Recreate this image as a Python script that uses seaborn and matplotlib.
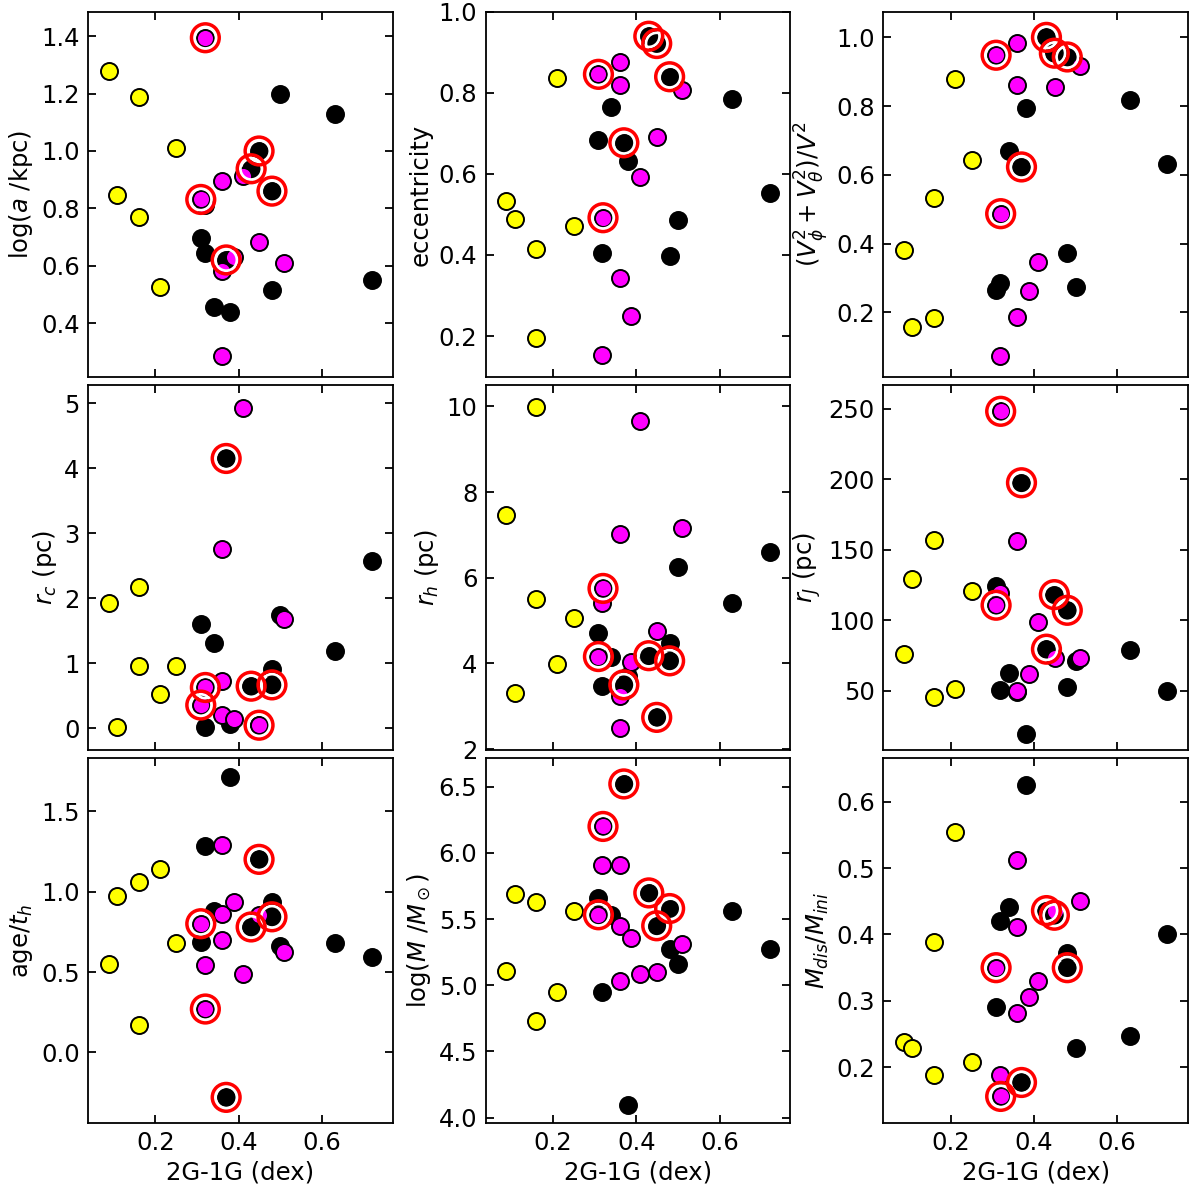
import matplotlib
matplotlib.use("Agg")
import matplotlib.pyplot as plt
import seaborn as sns
import numpy as np

# ---- data ----
x_yellow = [0.088, 0.108, 0.16, 0.16, 0.21, 0.25]
x_magenta = [0.309, 0.32, 0.318, 0.36, 0.36, 0.36, 0.388, 0.41, 0.45, 0.51]
circ_magenta = [True, True, False, False, False, False, False, False, False, False]
x_black = [0.309, 0.318, 0.34, 0.37, 0.38, 0.43, 0.449, 0.48, 0.48, 0.50, 0.631, 0.72]
circ_black = [False, False, False, True, False, True, True, True, False, False, False, False]

# panel 1: log(a/kpc)
y1_yellow = [1.28, 0.845, 1.19, 0.77, 0.525, 1.01]
y1_magenta = [0.831, 1.395, 0.81, 0.895, 0.58, 0.285, 0.63, 0.913, 0.683, 0.61]
y1_black = [0.695, 0.645, 0.455, 0.62, 0.44, 0.938, 1.0, 0.86, 0.515, 1.2, 1.13, 0.55]
# panel 2: eccentricity
y2_yellow = [0.534, 0.488, 0.414, 0.195, 0.837, 0.471]
y2_magenta = [0.846, 0.492, 0.152, 0.877, 0.819, 0.342, 0.249, 0.593, 0.691, 0.807]
y2_black = [0.685, 0.405, 0.765, 0.677, 0.631, 0.94, 0.922, 0.84, 0.398, 0.486, 0.786, 0.554]
# panel 3: (Vphi^2+Vtheta^2)/V^2
y3_yellow = [0.38, 0.156, 0.532, 0.184, 0.88, 0.644]
y3_magenta = [0.948, 0.487, 0.073, 0.984, 0.86, 0.186, 0.261, 0.346, 0.855, 0.918]
y3_black = [0.264, 0.285, 0.669, 0.623, 0.794, 1.0, 0.954, 0.943, 0.372, 0.275, 0.819, 0.632]
# panel 4: r_c
y4_yellow = [1.93, 0.015, 2.17, 0.96, 0.53, 0.96]
y4_magenta = [0.36, 0.63, 0.55, 2.76, 0.73, 0.2, 0.15, 4.93, 0.06, 1.68]
y4_black = [1.61, 0.03, 1.31, 4.15, 0.07, 0.65, 0.05, 0.67, 0.92, 1.75, 1.19, 2.58]
# panel 5: r_h
y5_yellow = [7.47, 3.31, 9.98, 5.5, 3.98, 5.05]
y5_magenta = [4.16, 5.75, 5.42, 7.03, 3.23, 2.5, 4.03, 9.67, 4.76, 7.15]
y5_black = [4.71, 3.48, 4.16, 3.5, 3.7, 4.18, 2.74, 4.06, 4.47, 6.24, 5.4, 6.6]
# panel 6: r_J
y6_yellow = [76.4, 129.6, 156.7, 45.5, 51.2, 120.6]
y6_magenta = [110.7, 248.3, 119.7, 156.3, 49.3, 50.0, 62.0, 98.6, 73.4, 72.9]
y6_black = [124.4, 50.3, 62.5, 197.6, 19.3, 79.5, 118.2, 107.1, 52.6, 71.0, 79.0, 50.0]
# panel 7: age/t_h
y7_yellow = [0.552, 0.971, 1.06, 0.171, 1.138, 0.682]
y7_magenta = [0.80, 0.27, 0.541, 1.29, 0.862, 0.70, 0.932, 0.49, 0.853, 0.622]
y7_black = [0.688, 1.281, 0.882, -0.279, 1.71, 0.78, 1.20, 0.843, 0.932, 0.661, 0.682, 0.591]
# panel 8: log(M/Msun)
y8_yellow = [5.11, 5.687, 5.63, 4.729, 4.95, 5.559]
y8_magenta = [5.532, 6.199, 5.91, 5.91, 5.449, 5.032, 5.358, 5.083, 5.103, 5.308]
y8_black = [5.66, 4.95, 5.527, 6.52, 4.099, 5.697, 5.449, 5.579, 5.27, 5.158, 5.559, 5.27]
# panel 9: M_dis/M_ini
y9_yellow = [0.2375, 0.2285, 0.388, 0.188, 0.555, 0.2085]
y9_magenta = [0.35, 0.156, 0.188, 0.513, 0.411, 0.282, 0.306, 0.33, 0.436, 0.45]
y9_black = [0.29, 0.42, 0.441, 0.177, 0.625, 0.436, 0.429, 0.35, 0.372, 0.229, 0.247, 0.40]

ylabels = [r'log($a$ /kpc)', 'eccentricity', r'$(V_\phi^2+V_\theta^2)/V^2$',
           r'$r_c$ (pc)', r'$r_h$ (pc)', r'$r_J$ (pc)',
           r'age/$t_h$', r'log($M$ /$M_\odot$)', r'$M_{dis}/M_{ini}$']
xlabel = '2G-1G (dex)'
xticks = [0.2, 0.4, 0.6]

panels = [
    (y1_yellow, y1_magenta, y1_black, (0.212, 1.485), [0.4, 0.6, 0.8, 1.0, 1.2, 1.4]),
    (y2_yellow, y2_magenta, y2_black, (0.099, 1.0), [0.2, 0.4, 0.6, 0.8, 1.0]),
    (y3_yellow, y3_magenta, y3_black, (0.012, 1.074), [0.2, 0.4, 0.6, 0.8, 1.0]),
    (y4_yellow, y4_magenta, y4_black, (-0.33, 5.28), [0, 1, 2, 3, 4, 5]),
    (y5_yellow, y5_magenta, y5_black, (1.98, 10.5), [2, 4, 6, 8, 10]),
    (y6_yellow, y6_magenta, y6_black, (8, 267), [50, 100, 150, 200, 250]),
    (y7_yellow, y7_magenta, y7_black, (-0.438, 1.83), [0.0, 0.5, 1.0, 1.5]),
    (y8_yellow, y8_magenta, y8_black, (3.96, 6.716), [4.0, 4.5, 5.0, 5.5, 6.0, 6.5]),
    (y9_yellow, y9_magenta, y9_black, (0.116, 0.666), [0.2, 0.3, 0.4, 0.5, 0.6]),
]

sns.set_style('ticks')
plt.rcParams['font.family'] = ['DejaVu Sans']
plt.rcParams['mathtext.fontset'] = 'dejavusans'
for key in ['text.color', 'axes.labelcolor', 'xtick.color', 'ytick.color', 'axes.edgecolor']:
    plt.rcParams[key] = 'black'

fig, axes = plt.subplots(3, 3, figsize=(12, 11.94), dpi=100)
fig.subplots_adjust(left=0.0733, right=0.99, top=0.990, bottom=0.0595,
                    wspace=0.305, hspace=0.022)

S_PT = 150
LW = 1.4
FS = 17.5
fmt = {0: '%.1f', 1: '%.1f', 2: '%.1f', 3: '%d', 4: '%d', 5: '%d', 6: '%.1f', 7: '%.1f', 8: '%.1f'}


def draw_points(ax, xs, ys, circ, color, z0):
    xs = np.asarray(xs); ys = np.asarray(ys); circ = np.asarray(circ, dtype=bool)
    sns.scatterplot(x=xs[~circ], y=ys[~circ], ax=ax, color=color, edgecolor='black',
                    linewidth=LW, s=S_PT, zorder=z0, legend=False)
    if circ.any():
        sns.scatterplot(x=xs[circ], y=ys[circ], ax=ax, color=color, edgecolor='black',
                        linewidth=LW, s=S_PT, zorder=z0 + 0.05, legend=False)


def draw_rings(ax, xs, ys, circ):
    xs = np.asarray(xs); ys = np.asarray(ys); circ = np.asarray(circ, dtype=bool)
    if circ.any():
        ax.scatter(xs[circ], ys[circ], s=240, facecolors='none', edgecolors='white',
                   linewidths=2.0, zorder=4.0)
        ax.scatter(xs[circ], ys[circ], s=400, facecolors='none', edgecolors='red',
                   linewidths=2.5, zorder=4.1)


for i, (ax, (yy, ym, yb, ylim, yt)) in enumerate(zip(axes.flat, panels)):
    draw_points(ax, x_black, yb, circ_black, 'black', 3.0)
    draw_points(ax, x_magenta, ym, circ_magenta, '#ff00ff', 3.2)
    sns.scatterplot(x=x_yellow, y=yy, ax=ax, color='#ffff00', edgecolor='black',
                    linewidth=LW, s=S_PT, zorder=3.4, legend=False)
    draw_rings(ax, x_black, yb, circ_black)
    draw_rings(ax, x_magenta, ym, circ_magenta)
    ax.set_xlim(0.038, 0.770)
    ax.set_ylim(*ylim)
    ax.set_xticks(xticks)
    ax.set_yticks(yt)
    ax.yaxis.set_major_formatter(matplotlib.ticker.FormatStrFormatter(fmt[i]))
    ax.xaxis.set_major_formatter(matplotlib.ticker.FormatStrFormatter('%.1f'))
    ax.tick_params(direction='in', top=True, right=True, length=6, width=1.3,
                   labelsize=FS, pad=6, colors='black')
    for sp in ax.spines.values():
        sp.set_linewidth(1.3)
        sp.set_color('black')
    ax.set_ylabel(ylabels[i], fontsize=FS, labelpad=4, color='black')
    if i >= 6:
        ax.set_xlabel(xlabel, fontsize=FS, color='black')
    else:
        ax.set_xlabel('')
        ax.tick_params(labelbottom=False)

fig.savefig('out.png', dpi=100)
